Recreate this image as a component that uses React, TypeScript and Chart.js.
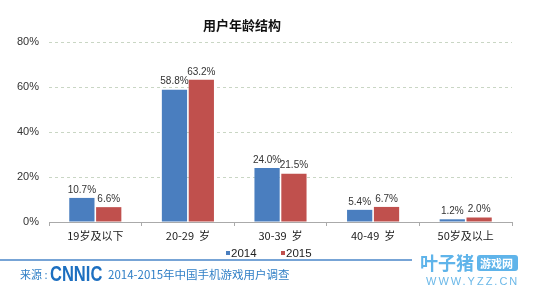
import React, { useEffect, useRef } from "react";
import { Chart, registerables } from "chart.js";

Chart.register(...registerables);

const title = "用户年龄结构";
const categories = ["19岁及以下", "20-29  岁", "30-39  岁", "40-49  岁", "50岁及以上"];
const series2014 = [10.7, 58.8, 24.0, 5.4, 1.2];
const series2015 = [6.6, 63.2, 21.5, 6.7, 2.0];
const seriesNames = ["2014", "2015"];
const seriesColors = ["#4a7ebf", "#c0504d"];
const yTicks = [0, 20, 40, 60, 80];
const sourceLabel = "来源 :";
const logoText = "CNNIC";
const sourceText = "2014-2015年中国手机游戏用户调查";

const CJK = '"Noto Sans CJK SC", "Liberation Sans", sans-serif';
const LAT = '"Liberation Sans", Arial, sans-serif';

const decorPlugin = {
  id: "decor",
  afterDatasetsDraw(chart: any) {
    const ctx = chart.ctx;
    ctx.save();
    ctx.font = `10px ${LAT}`;
    ctx.fillStyle = "#333";
    ctx.textAlign = "center";
    ctx.textBaseline = "bottom";
    chart.data.datasets.forEach((ds: any, di: number) => {
      const meta = chart.getDatasetMeta(di);
      meta.data.forEach((bar: any, i: number) => {
        ctx.fillText(ds.data[i].toFixed(1) + "%", bar.x, bar.y - 3);
      });
    });
    ctx.restore();
  },
  afterDraw(chart: any) {
    const ctx = chart.ctx;
    ctx.save();
    // title
    ctx.font = `bold 13px ${CJK}`;
    ctx.fillStyle = "#111";
    ctx.textAlign = "center";
    ctx.textBaseline = "middle";
    ctx.fillText(title, 242, 25);
    // legend
    ctx.textAlign = "left";
    ctx.font = `11.5px ${LAT}`;
    const legendX = [226, 281];
    chart.data.datasets.forEach((ds: any, di: number) => {
      ctx.fillStyle = ds.backgroundColor;
      ctx.fillRect(legendX[di], 251, 4, 4);
      ctx.fillStyle = "#222";
      ctx.fillText(ds.label, legendX[di] + 5, 253.5);
    });
    // footer rule
    ctx.strokeStyle = "#4a86c8";
    ctx.lineWidth = 1.5;
    ctx.beginPath();
    ctx.moveTo(0, 260);
    ctx.lineTo(412, 260);
    ctx.stroke();
    // source
    ctx.fillStyle = "#2f7fc6";
    ctx.font = `11px ${CJK}`;
    ctx.fillText(sourceLabel, 20, 275);
    ctx.fillStyle = "#1d6fc0";
    ctx.font = `bold 19px ${LAT}`;
    ctx.save();
    ctx.translate(50, 275);
    ctx.scale(0.87, 1.15);
    ctx.fillText(logoText, 0, 0);
    ctx.restore();
    ctx.fillStyle = "#2f7fc6";
    ctx.font = `11.5px ${CJK}`;
    ctx.fillText(sourceText, 108, 275);
    // watermark logo
    ctx.fillStyle = "#5fb4ea";
    ctx.font = `bold 18px ${CJK}`;
    ctx.fillText("叶子猪", 420, 263);
    ctx.beginPath();
    (ctx as any).roundRect(477, 255, 41, 16, 3);
    ctx.fill();
    ctx.fillStyle = "#fff";
    ctx.font = `bold 11px ${CJK}`;
    ctx.fillText("游戏网", 480, 263.5);
    ctx.fillStyle = "#6bb8e8";
    ctx.font = `11px ${LAT}`;
    (ctx as any).letterSpacing = "2px";
    ctx.fillText("WWW.YZZ.CN", 426, 282);
    ctx.restore();
  },
};

export default function App() {
  const ref = useRef<HTMLCanvasElement | null>(null);
  useEffect(() => {
    document.body.style.margin = "0";
    const chart = new Chart(ref.current as HTMLCanvasElement, {
      type: "bar",
      data: {
        labels: categories,
        datasets: [
          {
            label: seriesNames[0],
            data: series2014,
            backgroundColor: seriesColors[0],
            barPercentage: 0.94,
            categoryPercentage: 0.58,
          },
          {
            label: seriesNames[1],
            data: series2015,
            backgroundColor: seriesColors[1],
            barPercentage: 0.94,
            categoryPercentage: 0.58,
          },
        ],
      },
      options: {
        animation: false,
        responsive: false,
        maintainAspectRatio: false,
        layout: { padding: { top: 42, right: 28, bottom: 50, left: 0 } },
        plugins: {
          legend: { display: false },
          tooltip: { enabled: false },
        },
        scales: {
          y: {
            min: 0,
            max: 80,
            afterFit: (s: any) => {
              s.width = 49;
            },
            afterBuildTicks: (s: any) => {
              s.ticks = yTicks.map((v) => ({ value: v }));
            },
            ticks: {
              callback: (v: any) => v + "%",
              color: "#333",
              font: { size: 11, family: LAT },
              padding: 10,
            },
            grid: {
              drawTicks: false,
              color: (c: any) => (c.tick && c.tick.value === 0 ? "rgba(0,0,0,0)" : "#c9d6c4"),
            },
            border: { display: false, dash: [3, 3] },
          },
          x: {
            afterFit: (s: any) => {
              s.height = 22;
            },
            grid: {
              drawOnChartArea: false,
              drawTicks: true,
              tickLength: 4,
              color: "#aaa",
            },
            border: { display: true, color: "#aaa" },
            ticks: {
              color: "#222",
              font: { size: 11, family: CJK },
              padding: 3,
            },
          },
        },
      },
      plugins: [decorPlugin],
    } as any);
    return () => chart.destroy();
  }, []);
  return (
    <div style={{ width: 540, height: 294 }}>
      <canvas ref={ref} width={540} height={294} style={{ width: 540, height: 294 }} />
    </div>
  );
}
